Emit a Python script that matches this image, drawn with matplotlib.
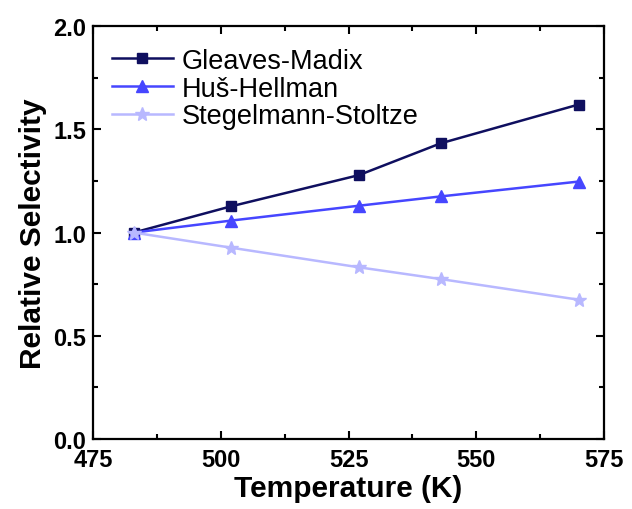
import matplotlib
matplotlib.use("Agg")
import matplotlib.pyplot as plt
from matplotlib.ticker import MultipleLocator, FormatStrFormatter

plt.rcParams['font.family'] = ['Liberation Sans', 'DejaVu Sans']

temperature = [483, 502, 527, 543, 570]
gleaves_madix = [1.0, 1.127, 1.278, 1.432, 1.62]
hus_hellman = [1.0, 1.058, 1.13, 1.175, 1.247]
stegelmann_stoltze = [1.0, 0.927, 0.832, 0.775, 0.675]

series = [
    ("Gleaves-Madix", gleaves_madix, "#0f0f5f", "s", 7.5),
    ("Huš-Hellman", hus_hellman, "#4646ff", "^", 9),
    ("Stegelmann-Stoltze", stegelmann_stoltze, "#b8b8ff", "*", 10.5),
]

fig = plt.figure(figsize=(6.32, 5.10), dpi=100)
ax = fig.add_axes([0.147, 0.137, 0.809, 0.810])

for name, vals, color, marker, ms in series:
    ax.plot(temperature, vals, color=color, marker=marker, markersize=ms,
            linewidth=1.8, label=name)

ax.set_xlim(475, 575)
ax.set_ylim(0.0, 2.0)
ax.xaxis.set_major_locator(MultipleLocator(25))
ax.xaxis.set_minor_locator(MultipleLocator(12.5))
ax.yaxis.set_major_locator(MultipleLocator(0.5))
ax.yaxis.set_minor_locator(MultipleLocator(0.25))
ax.yaxis.set_major_formatter(FormatStrFormatter('%.1f'))

ax.tick_params(which='both', direction='in', top=True, right=True, width=1.5)
ax.tick_params(which='major', length=6, labelsize=17, pad=5)
ax.tick_params(axis='x', which='major', pad=6.5)
ax.tick_params(which='minor', length=3.5)
for lbl in ax.get_xticklabels() + ax.get_yticklabels():
    lbl.set_fontweight('bold')
for sp in ax.spines.values():
    sp.set_linewidth(1.6)

ax.set_xlabel("Temperature (K)", fontsize=21.5, fontweight='bold', labelpad=2)
ax.set_ylabel("Relative Selectivity", fontsize=21.5, fontweight='bold', labelpad=4)

ax.legend(loc='upper left', bbox_to_anchor=(0.0, 0.993), frameon=False,
          fontsize=19.5, handlelength=2.25, borderpad=0.4, borderaxespad=0.3,
          labelspacing=0.06, handletextpad=0.33)

fig.savefig("out.png", dpi=100)
